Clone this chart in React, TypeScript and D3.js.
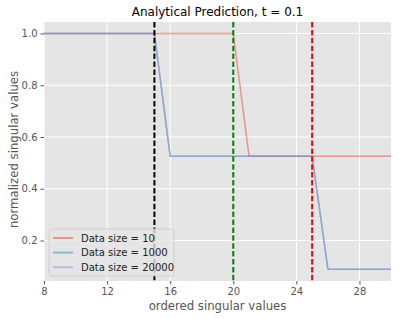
import React, { useRef, useEffect } from "react";
import * as d3 from "d3";

// singular value indices shown on the x axis
const indices = [8, 9, 10, 11, 12, 13, 14, 15, 16, 17, 18, 19, 20, 21, 22, 23, 24, 25, 26, 27, 28, 29, 30];

// normalized singular values per data size
const size10 = [1, 1, 1, 1, 1, 1, 1, 1, 1, 1, 1, 1, 1, 0.526, 0.526, 0.526, 0.526, 0.526, 0.526, 0.526, 0.526, 0.526, 0.526];
const size1000 = [1, 1, 1, 1, 1, 1, 1, 1, 0.526, 0.526, 0.526, 0.526, 0.526, 0.526, 0.526, 0.526, 0.526, 0.526, 0.089, 0.089, 0.089, 0.089, 0.089];
const size20000 = [1, 1, 1, 1, 1, 1, 1, 1, 0.526, 0.526, 0.526, 0.526, 0.526, 0.526, 0.526, 0.526, 0.526, 0.526, 0.089, 0.089, 0.089, 0.089, 0.089];

const seriesNames = ["Data size = 10", "Data size = 1000", "Data size = 20000"];
const seriesColors = ["#E24A33", "#348ABD", "#988ED5"];

// threshold markers
const cutoffs = [15, 20, 25];
const cutoffColors = ["#000000", "#008000", "#ff0000"];

const xTicks = [8, 12, 16, 20, 24, 28];
const yTicks = [0.2, 0.4, 0.6, 0.8, 1.0];

const Chart = ({ width, height }) => {
  const svgRef = useRef();

  useEffect(() => {
    const svg = d3.select(svgRef.current);
    svg.selectAll("*").remove();

    const margin = { top: 22, right: 8, bottom: 38, left: 44 };
    const innerWidth = width - margin.left - margin.right;
    const innerHeight = height - margin.top - margin.bottom;
    const font = "DejaVu Sans, sans-serif";

    const x = d3.scaleLinear().domain([8, 30]).range([0, innerWidth]);
    const y = d3.scaleLinear().domain([0.0435, 1.0445]).range([innerHeight, 0]);

    const g = svg.append("g").attr("transform", `translate(${margin.left},${margin.top})`);

    g.append("rect").attr("width", innerWidth).attr("height", innerHeight).attr("fill", "#E5E5E5");

    // grid
    g.selectAll(".gx").data(xTicks).enter().append("line")
      .attr("x1", d => x(d)).attr("x2", d => x(d)).attr("y1", 0).attr("y2", innerHeight)
      .attr("stroke", "#fff").attr("stroke-width", 1);
    g.selectAll(".gy").data(yTicks).enter().append("line")
      .attr("x1", 0).attr("x2", innerWidth).attr("y1", d => y(d)).attr("y2", d => y(d))
      .attr("stroke", "#fff").attr("stroke-width", 1);

    const clip = svg.append("clipPath").attr("id", "plotclip");
    clip.append("rect").attr("width", innerWidth).attr("height", innerHeight);
    const plot = g.append("g").attr("clip-path", "url(#plotclip)");

    const line = d3.line().x(d => x(d[0])).y(d => y(d[1]));
    [size10, size1000, size20000].forEach((vals, i) => {
      plot.append("path")
        .datum(indices.map((k, j) => [k, vals[j]]))
        .attr("d", line)
        .attr("fill", "none")
        .attr("stroke", seriesColors[i])
        .attr("stroke-opacity", 0.5)
        .attr("stroke-width", 1.5);
    });

    cutoffs.forEach((c, i) => {
      plot.append("line")
        .attr("x1", x(c)).attr("x2", x(c)).attr("y1", 0).attr("y2", innerHeight)
        .attr("stroke", cutoffColors[i])
        .attr("stroke-width", 2)
        .attr("stroke-dasharray", "5.5,2.4");
    });

    // axes
    const xAxis = g.append("g").attr("transform", `translate(0,${innerHeight})`)
      .call(d3.axisBottom(x).tickValues(xTicks).tickSize(3.5).tickPadding(3));
    const yAxis = g.append("g")
      .call(d3.axisLeft(y).tickValues(yTicks).tickFormat(d3.format(".1f")).tickSize(3.5).tickPadding(3));
    [xAxis, yAxis].forEach(a => {
      a.select(".domain").remove();
      a.selectAll("line").attr("stroke", "#555");
      a.selectAll("text").attr("fill", "#555").attr("font-size", 10).attr("font-family", font);
    });

    // legend
    const leg = g.append("g").attr("transform", `translate(5,${innerHeight - 52})`);
    leg.append("rect")
      .attr("width", 125).attr("height", 47).attr("rx", 3)
      .attr("fill", "#E5E5E5").attr("fill-opacity", 0.8)
      .attr("stroke", "#cccccc").attr("stroke-width", 0.8);
    seriesNames.forEach((name, i) => {
      const yy = 9 + i * 14.6;
      leg.append("line")
        .attr("x1", 4).attr("x2", 24).attr("y1", yy).attr("y2", yy)
        .attr("stroke", seriesColors[i]).attr("stroke-opacity", 0.5).attr("stroke-width", 2);
      leg.append("text")
        .attr("x", 32).attr("y", yy).attr("dy", "0.35em")
        .attr("font-size", 10).attr("font-family", font).attr("fill", "#222")
        .text(name);
    });

    // labels
    svg.append("text")
      .attr("x", margin.left + innerWidth / 2).attr("y", 16)
      .attr("text-anchor", "middle").attr("font-size", 12).attr("font-family", font).attr("fill", "#000")
      .text("Analytical Prediction, t = 0.1");
    svg.append("text")
      .attr("x", margin.left + innerWidth / 2).attr("y", height - 9)
      .attr("text-anchor", "middle").attr("font-size", 11.7).attr("font-family", font).attr("fill", "#555")
      .text("ordered singular values");
    svg.append("text")
      .attr("transform", `translate(18,${margin.top + innerHeight / 2 - 2}) rotate(-90)`)
      .attr("text-anchor", "middle").attr("font-size", 11.7).attr("font-family", font).attr("fill", "#555")
      .text("normalized singular values");
  }, [width, height]);

  return <svg ref={svgRef} width={width} height={height} style={{ display: "block" }} />;
};

export default function App() {
  return (
    <div style={{ position: "absolute", left: 0, top: 0 }}>
      <Chart width={399} height={319} />
    </div>
  );
}
